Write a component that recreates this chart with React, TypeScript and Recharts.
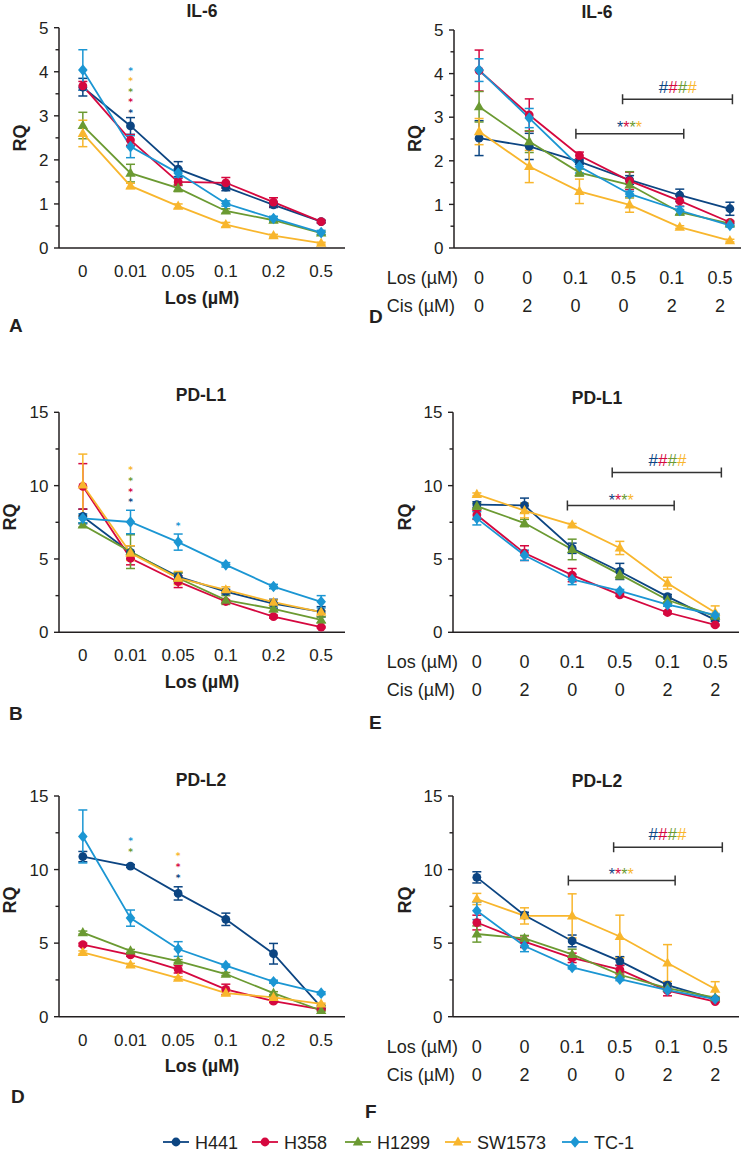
import React from "react";
import { LineChart, Line, XAxis, YAxis, ErrorBar, ReferenceLine, ReferenceDot } from "recharts";

const series = ["H441", "H358", "H1299", "SW1573", "TC-1"];
const colors: Record<string, string> = {
  H441: "#0c4582",
  H358: "#d5083f",
  H1299: "#6b9a32",
  SW1573: "#f8b62d",
  "TC-1": "#1b96d3",
};
const markers: Record<string, string> = {
  H441: "circle",
  H358: "circle",
  H1299: "triangle",
  SW1573: "triangle",
  "TC-1": "diamond",
};
const ink = "#231f20";

// x tick labels
const losDoses = ["0", "0.01", "0.05", "0.1", "0.2", "0.5"];
const comboLos = ["0", "0", "0.1", "0.5", "0.1", "0.5"];
const comboCis = ["0", "2", "0", "0", "2", "2"];
const il6YTicks = [0, 0.5, 1, 1.5, 2, 2.5, 3, 3.5, 4, 4.5, 5];
const pdYTicks = [0, 2.5, 5, 7.5, 10, 12.5, 15];

// IL-6, Los only
const il6Los = {
  H441: [3.65, 2.77, 1.79, 1.38, 0.98, 0.6],
  H358: [3.68, 2.45, 1.5, 1.48, 1.04, 0.6],
  H1299: [2.78, 1.7, 1.36, 0.84, 0.63, 0.34],
  SW1573: [2.6, 1.41, 0.95, 0.53, 0.28, 0.11],
  "TC-1": [4.04, 2.3, 1.7, 1.01, 0.67, 0.35],
};
const il6LosErr = {
  H441: [0.2, 0.19, 0.17, 0.08, 0.06, 0.03],
  H358: [0.1, 0.12, 0.08, 0.12, 0.1, 0.03],
  H1299: [0.3, 0.2, 0.08, 0.05, 0.04, 0.03],
  SW1573: [0.3, 0.06, 0.05, 0.05, 0.03, 0.02],
  "TC-1": [0.46, 0.25, 0.1, 0.06, 0.05, 0.05],
};

// IL-6, Los + Cis
const il6Combo = {
  H441: [2.52, 2.33, 1.98, 1.56, 1.21, 0.9],
  H358: [4.07, 3.05, 2.12, 1.54, 1.08, 0.59],
  H1299: [3.24, 2.44, 1.73, 1.45, 0.82, 0.56],
  SW1573: [2.67, 1.87, 1.3, 0.99, 0.48, 0.17],
  "TC-1": [4.08, 2.98, 1.87, 1.24, 0.86, 0.52],
};
const il6ComboErr = {
  H441: [0.4, 0.3, 0.06, 0.1, 0.14, 0.15],
  H358: [0.47, 0.37, 0.08, 0.2, 0.12, 0.03],
  H1299: [0.35, 0.25, 0.08, 0.3, 0.06, 0.04],
  SW1573: [0.3, 0.37, 0.28, 0.17, 0.03, 0.03],
  "TC-1": [0.26, 0.22, 0.15, 0.06, 0.09, 0.04],
};

// PD-L1, Los only
const pdl1Los = {
  H441: [7.9, 5.45, 3.8, 2.77, 1.95, 1.4],
  H358: [9.95, 5.05, 3.45, 2.1, 1.07, 0.35],
  H1299: [7.32, 5.5, 3.7, 2.2, 1.6, 0.85],
  SW1573: [10.05, 5.4, 3.7, 2.9, 2.05, 1.38],
  "TC-1": [7.77, 7.52, 6.15, 4.6, 3.12, 2.08],
};
const pdl1LosErr = {
  H441: [0.5, 0.45, 0.25, 0.15, 0.3, 0.35],
  H358: [1.55, 0.45, 0.4, 0.1, 0.1, 0.05],
  H1299: [0.15, 1.15, 0.35, 0.3, 0.2, 0.2],
  SW1573: [2.1, 0.5, 0.45, 0.2, 0.15, 0.1],
  "TC-1": [0.3, 0.8, 0.55, 0.15, 0.15, 0.42],
};

// PD-L1, Los + Cis
const pdl1Combo = {
  H441: [8.7, 8.65, 5.73, 4.15, 2.43, 0.85],
  H358: [8.0, 5.4, 3.9, 2.55, 1.35, 0.5],
  H1299: [8.6, 7.45, 5.65, 3.95, 2.2, 1.1],
  SW1573: [9.4, 8.3, 7.32, 5.75, 3.35, 1.35],
  "TC-1": [7.77, 5.25, 3.6, 2.82, 1.88, 1.18],
};
const pdl1ComboErr = {
  H441: [0.2, 0.5, 0.35, 0.55, 0.15, 0.1],
  H358: [0.3, 0.5, 0.45, 0.1, 0.1, 0.05],
  H1299: [0.2, 0.25, 0.7, 0.3, 0.15, 0.1],
  SW1573: [0.1, 0.5, 0.1, 0.45, 0.4, 0.45],
  "TC-1": [0.45, 0.35, 0.35, 0.1, 0.1, 0.1],
};

// PD-L2, Los only
const pdl2Los = {
  H441: [10.88, 10.24, 8.38, 6.62, 4.28, 0.65],
  H358: [4.9, 4.2, 3.22, 1.86, 1.06, 0.5],
  H1299: [5.72, 4.47, 3.78, 2.9, 1.6, 0.42],
  SW1573: [4.37, 3.52, 2.62, 1.6, 1.32, 0.87],
  "TC-1": [12.25, 6.7, 4.6, 3.47, 2.38, 1.6],
};
const pdl2LosErr = {
  H441: [0.35, 0.1, 0.45, 0.42, 0.7, 0.1],
  H358: [0.1, 0.1, 0.25, 0.35, 0.1, 0.05],
  H1299: [0.1, 0.1, 0.1, 0.1, 0.1, 0.05],
  SW1573: [0.1, 0.1, 0.1, 0.15, 0.1, 0.05],
  "TC-1": [1.8, 0.55, 0.5, 0.1, 0.1, 0.1],
};

// PD-L2, Los + Cis
const pdl2Combo = {
  H441: [9.47, 6.9, 5.15, 3.78, 2.15, 1.2],
  H358: [6.4, 5.1, 4.0, 3.2, 1.77, 1.03],
  H1299: [5.62, 5.32, 4.24, 2.85, 1.95, 1.3],
  SW1573: [8.0, 6.85, 6.85, 5.45, 3.65, 1.88],
  "TC-1": [7.2, 4.8, 3.35, 2.55, 1.8, 1.2],
};
const pdl2ComboErr = {
  H441: [0.38, 0.2, 0.4, 0.3, 0.1, 0.05],
  H358: [0.5, 0.4, 0.32, 0.3, 0.35, 0.05],
  H1299: [0.55, 0.2, 0.35, 0.15, 0.1, 0.05],
  SW1573: [0.38, 0.55, 1.5, 1.45, 1.25, 0.5],
  "TC-1": [0.6, 0.38, 0.1, 0.1, 0.1, 0.1],
};

// significance marks: "stack" = one symbol per line, top to bottom; otherwise side by side
type Mark = { x: number; y: number; who: string[]; ch: string; stack?: boolean };
type Bracket = { x1: number; x2: number; y: number };
const all4 = ["H441", "H358", "H1299", "SW1573"];

const il6LosMarks: Mark[] = [
  { x: 1, y: 4.08, who: ["TC-1", "SW1573", "H1299", "H358", "H441"], ch: "*", stack: true },
];
const pdl1LosMarks: Mark[] = [
  { x: 1, y: 11.2, who: ["SW1573", "H1299", "H358", "H441"], ch: "*", stack: true },
  { x: 2, y: 7.43, who: ["TC-1"], ch: "*", stack: true },
];
const pdl2LosMarks: Mark[] = [
  { x: 1, y: 12.08, who: ["TC-1", "H1299"], ch: "*", stack: true },
  { x: 2, y: 11.06, who: ["SW1573", "H358", "H441"], ch: "*", stack: true },
];
const il6ComboMarks: Mark[] = [
  { x: 3.0, y: 2.86, who: all4, ch: "*" },
  { x: 3.96, y: 3.69, who: all4, ch: "#" },
];
const il6Brackets: Bracket[] = [
  { x1: 1.93, x2: 4.08, y: 2.62 },
  { x1: 2.86, x2: 5.05, y: 3.41 },
];
const pdl1ComboMarks: Mark[] = [
  { x: 3.03, y: 9.32, who: all4, ch: "*" },
  { x: 4.0, y: 11.75, who: all4, ch: "#" },
];
const pdl1Brackets: Bracket[] = [
  { x1: 1.9, x2: 4.14, y: 8.64 },
  { x1: 2.84, x2: 5.13, y: 10.89 },
];
const pdl2ComboMarks: Mark[] = [
  { x: 3.03, y: 9.97, who: all4, ch: "*" },
  { x: 4.0, y: 12.42, who: all4, ch: "#" },
];
const pdl2Brackets: Bracket[] = [
  { x1: 1.92, x2: 4.16, y: 9.25 },
  { x1: 2.87, x2: 5.15, y: 11.51 },
];

const makeRows = (vals: Record<string, number[]>, errs: Record<string, number[]>) =>
  vals.H441.map((_, i) => {
    const row: any = { x: i };
    series.forEach((s) => {
      row[s] = vals[s][i];
      row[s + "_e"] = errs[s][i];
    });
    return row;
  });

function Marker({ cx, cy, kind, color }: any) {
  if (cx == null || cy == null) return null;
  if (kind === "circle") return <circle cx={cx} cy={cy} r={4.4} fill={color} />;
  if (kind === "triangle")
    return <path d={`M${cx},${cy - 5.6}L${cx + 5.2},${cy + 3.6}L${cx - 5.2},${cy + 3.6}Z`} fill={color} />;
  return <path d={`M${cx},${cy - 5.8}L${cx + 4.8},${cy}L${cx},${cy + 5.8}L${cx - 4.8},${cy}Z`} fill={color} />;
}

function YTick({ x, y, payload, major }: any) {
  const v = payload.value;
  const isMajor = Math.abs(v / major - Math.round(v / major)) < 1e-6;
  return (
    <g>
      <line x1={x - (isMajor ? 5 : 3.5)} x2={x} y1={y} y2={y} stroke={ink} strokeWidth={1.4} />
      {isMajor && (
        <text x={x - 10.5} y={y} dy="0.36em" textAnchor="end" fontSize={17} fill={ink}>
          {v}
        </text>
      )}
    </g>
  );
}

function XTick({ x, y, payload, combo, pull }: any) {
  const i = payload.value;
  const tx = x - i * (pull || 0);
  if (!combo)
    return (
      <text x={tx} y={y + 29} textAnchor="middle" fontSize={17} fill={ink}>
        {losDoses[i]}
      </text>
    );
  return (
    <g>
      <text x={tx} y={y + 36} textAnchor="middle" fontSize={18} fill={ink}>
        {comboLos[i]}
      </text>
      <text x={tx} y={y + 64} textAnchor="middle" fontSize={18} fill={ink}>
        {comboCis[i]}
      </text>
    </g>
  );
}

function MarkText({ cx, cy, m }: any) {
  const mk: Mark = m;
  if (mk.stack)
    return (
      <text x={cx} y={cy} textAnchor="middle" fontSize={9} fontFamily="'DejaVu Sans', sans-serif" fontWeight={700}>
        {mk.who.map((w, j) => (
          <tspan key={j} x={cx} dy={j === 0 ? "0.6em" : 10.6} fill={colors[w]}>
            {mk.ch}
          </tspan>
        ))}
      </text>
    );
  return (
    <text x={cx} y={cy} dy={mk.ch === "*" ? "0.62em" : "0.36em"} textAnchor="middle" fontSize={mk.ch === "*" ? 16 : 17}>
      {mk.who.map((w, j) => (
        <tspan key={j} fill={colors[w]}>
          {mk.ch}
        </tspan>
      ))}
    </text>
  );
}

type Cfg = { left: number; top: number; width: number; yw: number; mt: number; mr: number; mb: number; pull?: number };

function Panel({ cfg, vals, errs, yTicks, yMax, major, combo, marks, brackets }: any) {
  const c: Cfg = cfg;
  const data = makeRows(vals, errs);
  return (
    <div style={{ position: "absolute", left: c.left, top: c.top }}>
      <LineChart width={c.width} height={330} data={data} margin={{ top: c.mt, right: c.mr, left: 0, bottom: c.mb }}>
        <XAxis
          type="number"
          dataKey="x"
          domain={[-0.5, 5.5]}
          ticks={[0, 1, 2, 3, 4, 5]}
          interval={0}
          height={30}
          tickLine={false}
          tickSize={0}
          tickMargin={0}
          axisLine={{ stroke: ink, strokeWidth: 1.5 }}
          tick={(p: any) => <XTick {...p} combo={combo} pull={c.pull} />}
        />
        <YAxis
          type="number"
          domain={[0, yMax]}
          ticks={yTicks}
          interval={0}
          width={c.yw}
          tickLine={false}
          tickSize={0}
          tickMargin={0}
          axisLine={{ stroke: ink, strokeWidth: 1.5 }}
          tick={(p: any) => <YTick {...p} major={major} />}
        />
        {(brackets || []).map((b: Bracket, k: number) => (
          <ReferenceLine
            key={"b" + k}
            segment={[
              { x: b.x1, y: b.y },
              { x: b.x2, y: b.y },
            ]}
            ifOverflow="visible"
            stroke={ink}
            shape={(p: any) => (
              <path
                d={`M${p.x1},${p.y1 - 5}V${p.y1 + 5}M${p.x1},${p.y1}H${p.x2}M${p.x2},${p.y2 - 5}V${p.y2 + 5}`}
                stroke="#333"
                strokeWidth={1.5}
                fill="none"
              />
            )}
          />
        ))}
        {series.map((s) => (
          <Line
            key={s}
            type="linear"
            dataKey={s}
            stroke={colors[s]}
            strokeWidth={1.8}
            isAnimationActive={false}
            activeDot={false}
            dot={(p: any) => <Marker key={s + p.index} cx={p.cx} cy={p.cy} kind={markers[s]} color={colors[s]} />}
          >
            <ErrorBar dataKey={s + "_e"} width={4.5} strokeWidth={1.5} stroke={colors[s]} direction="y" isAnimationActive={false} />
          </Line>
        ))}
        {(marks || []).map((m: Mark, k: number) => (
          <ReferenceDot
            key={"m" + k}
            x={m.x}
            y={m.y}
            r={0}
            ifOverflow="visible"
            shape={(p: any) => <MarkText cx={p.cx} cy={p.cy} m={m} />}
          />
        ))}
      </LineChart>
    </div>
  );
}

const leftCfg = (top: number, mt: number, mb: number): Cfg => ({ left: 0, top, width: 370, yw: 59, mt, mr: 25, mb });

const legendX = [163, 252, 345, 445, 562];

export default function App() {
  const font = "'Liberation Sans', Arial, Helvetica, sans-serif";
  const bold = { fontWeight: 700 as const };
  return (
    <div
      style={{
        position: "absolute",
        left: 0,
        top: 0,
        width: 741,
        height: 1153,
        overflow: "hidden",
        background: "#fff",
        fontFamily: font,
        color: ink,
      }}
    >
      <Panel cfg={leftCfg(0, 27.7, 52)} vals={il6Los} errs={il6LosErr} yTicks={il6YTicks} yMax={5} major={1} marks={il6LosMarks} />
      <Panel
        cfg={{ left: 370, top: 0, width: 390, yw: 84, mt: 30, mr: 5, mb: 52, pull: 2 }}
        vals={il6Combo}
        errs={il6ComboErr}
        yTicks={il6YTicks}
        yMax={5}
        major={1}
        combo
        marks={il6ComboMarks}
        brackets={il6Brackets}
      />
      <Panel cfg={leftCfg(380, 32.3, 47.7)} vals={pdl1Los} errs={pdl1LosErr} yTicks={pdYTicks} yMax={15} major={5} marks={pdl1LosMarks} />
      <Panel
        cfg={{ left: 370, top: 380, width: 371, yw: 83, mt: 32.3, mr: 2, mb: 47.7 }}
        vals={pdl1Combo}
        errs={pdl1ComboErr}
        yTicks={pdYTicks}
        yMax={15}
        major={5}
        combo
        marks={pdl1ComboMarks}
        brackets={pdl1Brackets}
      />
      <Panel cfg={leftCfg(760, 36, 43.3)} vals={pdl2Los} errs={pdl2LosErr} yTicks={pdYTicks} yMax={15} major={5} marks={pdl2LosMarks} />
      <Panel
        cfg={{ left: 370, top: 760, width: 371, yw: 83, mt: 36, mr: 2, mb: 43.3 }}
        vals={pdl2Combo}
        errs={pdl2ComboErr}
        yTicks={pdYTicks}
        yMax={15}
        major={5}
        combo
        marks={pdl2ComboMarks}
        brackets={pdl2Brackets}
      />

      <svg width={741} height={1153} style={{ position: "absolute", left: 0, top: 0, pointerEvents: "none" }} fill={ink}>
        {/* panel titles */}
        <g fontSize={17.5} textAnchor="middle" {...bold}>
          <text x={202} y={16.7}>IL-6</text>
          <text x={597} y={18.3}>IL-6</text>
          <text x={201} y={400.7}>PD-L1</text>
          <text x={597} y={404}>PD-L1</text>
          <text x={201} y={785.7}>PD-L2</text>
          <text x={597} y={787}>PD-L2</text>
        </g>
        {/* RQ axis titles */}
        <g fontSize={18} textAnchor="middle" dominantBaseline="central" {...bold}>
          {[
            [19.5, 138],
            [415, 138.5],
            [10, 517],
            [405, 517],
            [10, 900],
            [405, 900],
          ].map(([x, y], k) => (
            <text key={k} x={x} y={y} transform={`rotate(-90 ${x} ${y})`}>
              RQ
            </text>
          ))}
        </g>
        {/* Los axis titles, left column */}
        <g fontSize={18} textAnchor="middle" {...bold}>
          <text x={202} y={303.5}>Los (µM)</text>
          <text x={202} y={688}>Los (µM)</text>
          <text x={202} y={1072}>Los (µM)</text>
        </g>
        {/* row labels, right column */}
        <g fontSize={18}>
          {[248, 632.3, 1016.7].map((ay, k) => (
            <g key={k}>
              <text x={386.7} y={ay + 36}>Los (µM)</text>
              <text x={386.7} y={ay + 64}>Cis (µM)</text>
            </g>
          ))}
        </g>
        {/* panel letters */}
        <g fontSize={19} {...bold}>
          <text x={9} y={332}>A</text>
          <text x={369} y={323}>D</text>
          <text x={9} y={720}>B</text>
          <text x={369} y={729}>E</text>
          <text x={11} y={1103}>D</text>
          <text x={365} y={1118}>F</text>
        </g>
        {/* legend */}
        <g fontSize={18}>
          {series.map((s, k) => {
            const x0 = legendX[k];
            return (
              <g key={s}>
                <line x1={x0} x2={x0 + 26} y1={1142} y2={1142} stroke={colors[s]} strokeWidth={1.8} />
                <Marker cx={x0 + 13} cy={1142} kind={markers[s]} color={colors[s]} />
                <text x={x0 + 32} y={1148.5}>
                  {s}
                </text>
              </g>
            );
          })}
        </g>
      </svg>
    </div>
  );
}
